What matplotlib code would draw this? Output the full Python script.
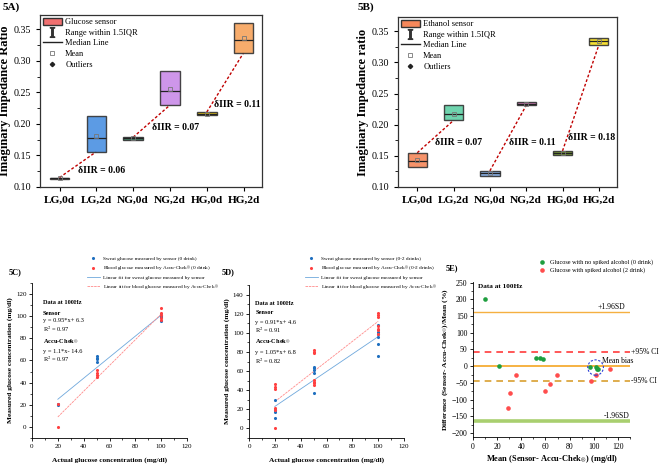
import matplotlib.pyplot as plt
import numpy as np
from matplotlib.patches import Patch, Ellipse
from matplotlib.lines import Line2D
from matplotlib.ticker import MultipleLocator

plt.rcParams['font.family'] = ['Liberation Serif', 'DejaVu Serif']
plt.rcParams['mathtext.fontset'] = 'stix'

# ---------------- data ----------------
groups = ['LG,0d', 'LG,2d', 'NG,0d', 'NG,2d', 'HG,0d', 'HG,2d']

# 5A glucose sensor boxes
glu_q1 = [0.113, 0.156, 0.175, 0.230, 0.214, 0.313]
glu_q3 = [0.115, 0.212, 0.179, 0.284, 0.219, 0.360]
glu_med = [0.114, 0.177, 0.177, 0.253, 0.2165, 0.333]
glu_mean = [0.114, 0.181, 0.177, 0.256, 0.2165, 0.336]
glu_colors = ['#f07070', '#4a90e2', '#2f7a5a', '#c98be8', '#d9b400', '#f7a35c']
glu_diff = ['0.06', '0.07', '0.11']

# 5B ethanol sensor boxes
eth_q1 = [0.132, 0.207, 0.118, 0.231, 0.152, 0.328]
eth_q3 = [0.155, 0.232, 0.126, 0.237, 0.158, 0.340]
eth_med = [0.142, 0.217, 0.122, 0.234, 0.155, 0.334]
eth_mean = [0.144, 0.218, 0.122, 0.234, 0.155, 0.334]
eth_colors = ['#f5875a', '#5fd0a5', '#7aa3db', '#c46aa8', '#6b8e23', '#f5dc1e']
eth_diff = ['0.07', '0.11', '0.18']

# 5C (0 drink)
c_sens_x = [20, 20, 50, 50, 50, 50, 100, 100, 100, 100]
c_sens_y = [20, 21, 64, 62.5, 61, 58.5, 101, 100, 99, 96]
c_accu_x = [20, 20, 50, 50, 50, 50, 100, 100, 100, 100, 100]
c_accu_y = [21, 0, 51, 49, 47, 45, 107, 103, 101, 98.5, 97]
c_fit_x = [20, 100]
c_fit_sens = [25, 101]
c_fit_accu = [9, 102]

# 5D (0-2 drinks)
d_sens_x = [20] * 4 + [50] * 5 + [100] * 6
d_sens_y = [30, 19, 17.5, 10.5, 64.5, 63, 61, 58, 37, 108, 101, 98.5, 96, 88, 75.5]
d_accu_x = [20] * 6 + [50] * 7 + [100] * 7
d_accu_y = [46, 43.5, 41, 21, 19.5, 0, 82, 80, 78.5, 50.5, 49, 47, 45.5,
            121, 119, 117, 107, 104.5, 102.5, 98.5]
d_fit_x = [20, 100]
d_fit_sens = [23, 96]
d_fit_accu = [28, 112]

# 5E Bland-Altman
e_no_x = [10.2, 21.7, 52.2, 55.5, 57.7, 96.7, 101.6, 102.5, 103.6]
e_no_y = [200, 0, 25.7, 24.7, 21.8, -3, -3, -7, -9]
e_al_x = [28.8, 30.8, 35.7, 59.6, 63.7, 69.8, 97.8, 102.2, 113.2]
e_al_y = [-125, -80, -27, -75, -53, -26, -45, -27, -8.5]
sd_hi, ci_hi, bias, ci_lo, sd_lo = 163, 43, 0, -43, -163

W, H = 660, 465
fig = plt.figure(figsize=(6.6, 4.65), dpi=100)


def rect(l, t, r, b):
    return [l / W, 1 - b / H, (r - l) / W, (b - t) / H]


def box_panel(ax, q1, q3, med, mean, colors, diffs, diff_pos, ylabel, leg_label):
    stats = []
    for i in range(len(groups)):
        stats.append(dict(med=med[i], q1=q1[i], q3=q3[i], whislo=q1[i], whishi=q3[i],
                          mean=mean[i], fliers=[]))
    pos = np.arange(1, 7)
    bp = ax.bxp(stats, positions=pos, widths=0.53, patch_artist=True, showmeans=True,
                showcaps=False,
                boxprops=dict(edgecolor='#333333', linewidth=1.0),
                whiskerprops=dict(linewidth=0),
                medianprops=dict(color='#222222', linewidth=0.9),
                meanprops=dict(marker='s', markerfacecolor='none', markeredgecolor='#777777',
                               markersize=2.5, markeredgewidth=0.6))
    for patch, c in zip(bp['boxes'], colors):
        patch.set_facecolor(c)
        patch.set_alpha(0.9)
    for k in range(3):
        i0, i1 = 2 * k, 2 * k + 1
        ax.plot([pos[i0], pos[i1]], [q3[i0], q1[i1]], color='#c00000', lw=1.0,
                ls=(0, (2, 1.5)), zorder=1)
        ax.text(diff_pos[k][0], diff_pos[k][1], 'δIIR = ' + diffs[k], fontsize=7,
                fontweight='bold', ha='center', va='center')
    ax.set_xlim(0.47, 6.5)
    ax.set_ylim(0.10, 0.373)
    ax.set_xticks(pos)
    ax.set_xticklabels(groups, fontsize=8.2, fontweight='bold')
    ax.set_yticks([0.10, 0.15, 0.20, 0.25, 0.30, 0.35])
    ax.set_yticklabels(['0.10', '0.15', '0.20', '0.25', '0.30', '0.35'], fontsize=7.2)
    ax.yaxis.set_minor_locator(MultipleLocator(0.025))
    ax.tick_params(direction='out', length=3, width=0.8)
    ax.tick_params(which='minor', direction='out', length=2, width=0.6)
    ax.set_ylabel(ylabel, fontsize=9, fontweight='bold', labelpad=2)
    for s in ax.spines.values():
        s.set_linewidth(0.9)
        s.set_color('#333333')
    handles = [Patch(facecolor=colors[0] if leg_label == 'Ethanol sensor' else '#f07070',
                     edgecolor='#333333'),
               Line2D([], [], ls='none', marker='$\\mathrm{I}$', color='#333333', markersize=7),
               Line2D([], [], color='#222222', lw=1),
               Line2D([], [], ls='none', marker='s', markerfacecolor='none',
                      markeredgecolor='#777777', markersize=2.5, markeredgewidth=0.6),
               Line2D([], [], ls='none', marker='D', color='#222222', markersize=2.2)]
    labels = [leg_label, 'Range within 1.5IQR', 'Median Line', 'Mean', 'Outliers']
    ax.legend(handles, labels, loc='upper left', bbox_to_anchor=(0.012, 0.985),
              frameon=False, fontsize=6, handlelength=2.3, handleheight=1.0,
              handletextpad=0.4, labelspacing=0.25, borderpad=0, borderaxespad=0)


# ---------- 5A ----------
axA = fig.add_axes(rect(40, 15, 262, 187))
box_panel(axA, glu_q1, glu_q3, glu_med, glu_mean, glu_colors, glu_diff,
          [(2.15, 0.1254), (4.14, 0.1943), (5.83, 0.2314)],
          'Imaginary Impedance Ratio', 'Glucose sensor')

# ---------- 5B ----------
axB = fig.add_axes(rect(398, 17, 617, 187))
box_panel(axB, eth_q1, eth_q3, eth_med, eth_mean, eth_colors, eth_diff,
          [(2.15, 0.1715), (4.17, 0.172), (5.81, 0.179)],
          'Imaginary Impedance ratio', 'Ethanol sensor')

fig.text(3 / W, 1 - 7 / H, '5A)', fontsize=8, fontweight='bold', va='center')
fig.text(358 / W, 1 - 7 / H, '5B)', fontsize=8, fontweight='bold', va='center')

accu = 'Accu-Chek$_{®}$'


def scatter_panel(ax, sx, sy, ax_, ay, fx, fs, fa, ylim, yticks, legs, texts, tpos, tx):
    ax.scatter(sx, sy, s=5, color='#1f6fbf', lw=0, label=legs[0], zorder=3)
    ax.scatter(ax_, ay, s=5, color='#ff4040', lw=0, label=legs[1], zorder=3)
    ax.plot(fx, fs, color='#6fa8dc', lw=0.6, label=legs[2])
    ax.plot(fx, fa, color='#ff8c8c', lw=0.6, ls=(0, (3, 1)), label=legs[3])
    ax.set_xlim(0, 120)
    ax.set_ylim(*ylim)
    ax.set_xticks(range(0, 121, 20))
    ax.set_yticks(yticks)
    ax.xaxis.set_minor_locator(MultipleLocator(10))
    ax.yaxis.set_minor_locator(MultipleLocator(10))
    ax.tick_params(direction='out', length=2.5, width=0.6, labelsize=5, pad=1.5)
    ax.tick_params(which='minor', direction='out', length=1.5, width=0.5)
    for s in ['top', 'right']:
        ax.spines[s].set_visible(False)
    for s in ['left', 'bottom']:
        ax.spines[s].set_linewidth(0.6)
    ax.set_xlabel('Actual glucose concentration (mg/dl)', fontsize=5.3, fontweight='bold',
                  labelpad=6)
    ax.set_ylabel('Measured glucose concentration (mg/dl)', fontsize=5.3, fontweight='bold',
                  labelpad=2)
    for (t, bold), y in zip(texts, tpos):
        ax.text(tx, y, t, transform=ax.transAxes, fontsize=4.6,
                fontweight='bold' if bold else 'normal', va='center')


# ---------- 5C ----------
axC = fig.add_axes(rect(32, 283, 187, 438))
scatter_panel(axC, c_sens_x, c_sens_y, c_accu_x, c_accu_y, c_fit_x, c_fit_sens, c_fit_accu,
              (-10, 130), range(0, 121, 20),
              ['Sweat glucose measured by sensor (0 drink)',
               'Blood glucose measured by ' + accu + ' (0 drink)',
               'Linear fit for sweat glucose measured by sensor',
               'Linear fit for blood glucose measured by ' + accu],
              [('Data at 100Hz', True), ('Sensor', True), ('y = 0.95*x+ 6.3', False),
               ('R$^2$ = 0.97', False), (accu, True), ('y = 1.1*x- 14.6', False),
               ('R$^2$ = 0.97', False)],
              [0.871, 0.806, 0.755, 0.703, 0.619, 0.561, 0.51], 0.07)
axC.legend(loc='upper left', bbox_to_anchor=(0.355, 1.174), frameon=False, fontsize=3.8,
           handlelength=2.45, handletextpad=0.5, labelspacing=0.62, borderpad=0,
           borderaxespad=0)

# ---------- 5D ----------
axD = fig.add_axes(rect(249, 285, 404, 438))
scatter_panel(axD, d_sens_x, d_sens_y, d_accu_x, d_accu_y, d_fit_x, d_fit_sens, d_fit_accu,
              (-10, 150), range(0, 141, 20),
              ['Sweat glucose measured by sensor (0-2 drinks)',
               'Blood glucose measured by ' + accu + ' (0-2 drinks)',
               'Linear fit for sweat glucose measured by sensor',
               'Linear fit for blood glucose measured by ' + accu],
              [('Data at 100Hz', True), ('Sensor', True), ('y = 0.91*x+ 4.6', False),
               ('R$^2$ = 0.91', False), (accu, True), ('y = 1.05*x+ 6.8', False),
               ('R$^2$ = 0.82', False)],
              [0.876, 0.817, 0.758, 0.706, 0.627, 0.562, 0.503], 0.04)
axD.legend(loc='upper left', bbox_to_anchor=(0.361, 1.19), frameon=False, fontsize=3.8,
           handlelength=2.45, handletextpad=0.5, labelspacing=0.62, borderpad=0,
           borderaxespad=0)

fig.text(9 / W, 1 - 272 / H, '5C)', fontsize=6, fontweight='bold', va='center')
fig.text(222 / W, 1 - 272 / H, '5D)', fontsize=6, fontweight='bold', va='center')
fig.text(446 / W, 1 - 268 / H, '5E)', fontsize=6, fontweight='bold', va='center')

# ---------- 5E ----------
axE = fig.add_axes(rect(473, 282, 630, 437))
axE.axhline(sd_hi, color='#f5b041', lw=1.0)
axE.axhline(ci_hi, color='#ff3b3b', lw=1.2, ls=(0, (4, 3)))
axE.axhline(bias, color='#f5a623', lw=1.2)
axE.axhline(ci_lo, color='#d9a030', lw=1.2, ls=(0, (4, 3)))
axE.axhline(sd_lo, color='#a9cf6f', lw=2.6)
axE.scatter(e_no_x, e_no_y, s=11, color='#1f9e3f', lw=0, zorder=3,
            label='Glucose with no spiked alcohol (0 drink)')
axE.scatter(e_al_x, e_al_y, s=11, color='#ff4d4d', lw=0, zorder=3,
            label='Glucose with spiked alcohol (2 drink)')
axE.add_patch(Ellipse((101.5, -4), 13, 46, fill=False, edgecolor='#2a3fd6', lw=0.8,
                      ls=(0, (2, 1.5)), zorder=4))
axE.text(115, sd_hi + 14, '+1.96SD', fontsize=5.5, ha='center', va='center')
axE.text(131, ci_hi, '+95% CI', fontsize=5.5, ha='left', va='center', clip_on=False)
axE.text(107, 16, 'Mean bias', fontsize=5.5, ha='left', va='center')
axE.text(131, ci_lo, '-95% CI', fontsize=5.5, ha='left', va='center', clip_on=False)
axE.text(108, sd_lo + 14, '-1.96SD', fontsize=5.5, ha='left', va='center')
axE.text(0.03, 0.97, 'Data at 100Hz', transform=axE.transAxes, fontsize=5.2,
         fontweight='bold', va='center')
axE.set_xlim(0, 130)
axE.set_ylim(-212, 252)
axE.set_xticks(range(0, 121, 20))
axE.set_yticks(range(-200, 251, 50))
axE.xaxis.set_minor_locator(MultipleLocator(10))
axE.yaxis.set_minor_locator(MultipleLocator(25))
axE.tick_params(direction='out', length=2.5, width=0.6, labelsize=5.6, pad=1.5)
axE.tick_params(which='minor', direction='out', length=1.5, width=0.5)
for s in ['top', 'right']:
    axE.spines[s].set_visible(False)
for s in ['left', 'bottom']:
    axE.spines[s].set_linewidth(0.6)
axE.set_xlabel('Mean (Sensor- ' + accu + ') (mg/dl)', fontsize=6, fontweight='bold',
               labelpad=2)
axE.set_ylabel('Difference (Sensor- ' + accu + ')/Mean (%)', fontsize=5.4,
               fontweight='bold', labelpad=1)
axE.legend(loc='upper left', bbox_to_anchor=(0.42, 1.15), frameon=False, fontsize=4.5,
           handlelength=1.0, handletextpad=0.8, labelspacing=0.5, borderpad=0,
           borderaxespad=0)

fig.savefig('out.png', dpi=100)
